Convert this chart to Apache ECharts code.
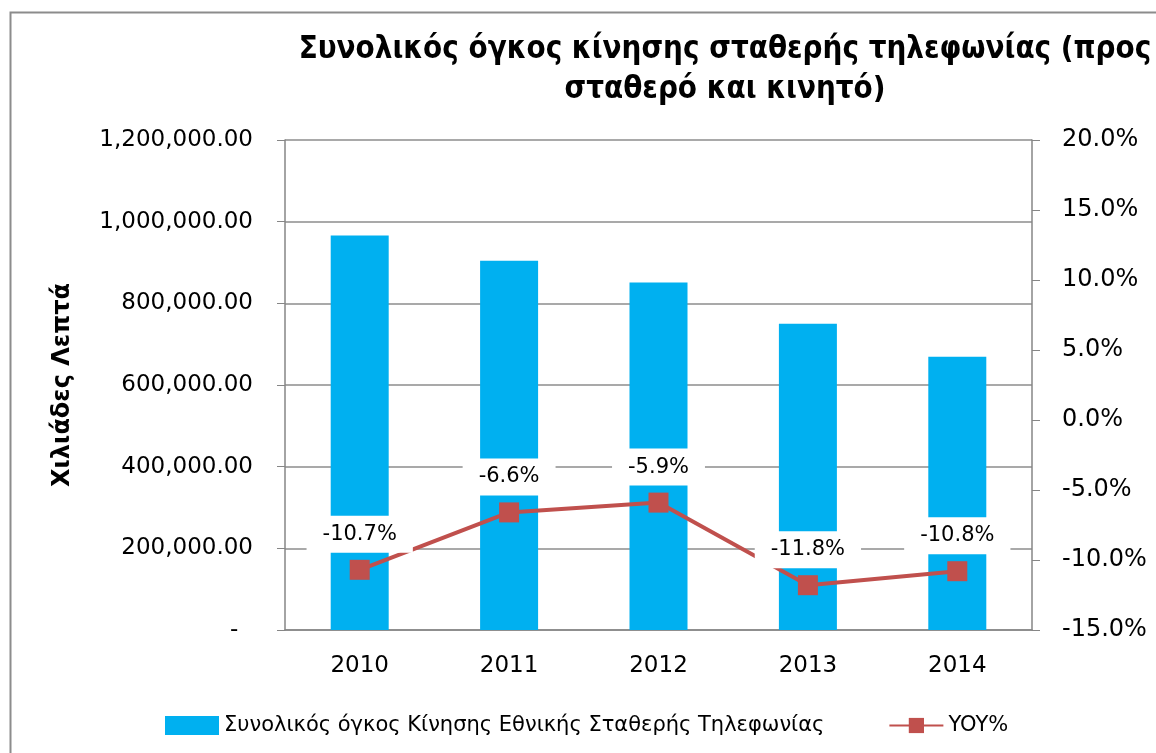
<!DOCTYPE html>
<html>
<head>
<meta charset="utf-8">
<script src="https://cdn.jsdelivr.net/npm/echarts@6/dist/echarts.min.js"></script>
<style>
  html, body { margin: 0; padding: 0; background: #fff; }
  #chart { width: 1156px; height: 753px; }
</style>
</head>
<body>
<div id="chart"></div>
<script>
// data
const years = ['2010', '2011', '2012', '2013', '2014']
const traffic = [966000, 904000, 851000, 750000, 669000] // χιλιάδες λεπτά
const yoy = [-10.7, -6.6, -5.9, -11.8, -10.8] // %

const barName = 'Συνολικός όγκος Κίνησης Εθνικής Σταθερής Τηλεφωνίας'
const lineName = 'YOY%'
const font = 'DejaVu Sans'

const chart = echarts.init(document.getElementById('chart'))
chart.setOption({
  animation: false,
  backgroundColor: '#fff',
  graphic: [
    {
      type: 'rect',
      left: 8,
      top: 10,
      shape: { width: 1300, height: 900 },
      style: { fill: 'none', stroke: '#8c8c8c', lineWidth: 2 },
      silent: true
    },
    {
      // title is centred off to the right and runs past the edge, as in the original
      type: 'text',
      x: 725,
      y: 30,
      style: {
        text: 'Συνολικός όγκος κίνησης σταθερής τηλεφωνίας (προς\nσταθερό και κινητό)',
        textAlign: 'center',
        fontFamily: '"DejaVu Sans Condensed", "DejaVu Sans"',
        fontSize: 31,
        fontWeight: 'bold',
        lineHeight: 40,
        fill: '#000'
      }
    }
  ],
  grid: { left: 285, right: 124, top: 140, bottom: 123 },
  legend: {
    left: 160,
    top: 710,
    itemWidth: 54,
    itemHeight: 19,
    itemGap: 64,
    textStyle: { fontFamily: font, fontSize: 21, color: '#000' },
    data: [{ name: barName, icon: 'rect' }, { name: lineName }]
  },
  xAxis: {
    type: 'category',
    data: years,
    axisLine: { lineStyle: { color: '#868686', width: 1.5 } },
    axisTick: { show: false },
    axisLabel: { fontFamily: font, fontSize: 23, color: '#000', margin: 25 }
  },
  yAxis: [
    {
      type: 'value',
      min: 0,
      max: 1200000,
      interval: 200000,
      name: 'Χιλιάδες Λεπτά',
      nameLocation: 'middle',
      nameRotate: 90,
      nameGap: 210,
      nameTextStyle: { fontFamily: font, fontSize: 24, fontWeight: 'bold', color: '#000' },
      axisLine: { show: true, lineStyle: { color: '#868686', width: 1.5 } },
      axisTick: { show: true, length: 8, lineStyle: { color: '#868686' } },
      splitLine: { lineStyle: { color: '#8c8c8c', width: 1.5 } },
      axisLabel: {
        fontFamily: font,
        fontSize: 23,
        color: '#000',
        margin: 32,
        formatter: v => v === 0 ? '-  ' : v.toLocaleString('en-US', { minimumFractionDigits: 2, maximumFractionDigits: 2 })
      }
    },
    {
      type: 'value',
      min: -15,
      max: 20,
      interval: 5,
      position: 'right',
      axisLine: { show: true, lineStyle: { color: '#868686', width: 1.5 } },
      axisTick: { show: true, length: 8, lineStyle: { color: '#868686' } },
      splitLine: { show: false },
      axisLabel: {
        fontFamily: font,
        fontSize: 24,
        color: '#000',
        margin: 30,
        formatter: v => v.toFixed(1) + '%'
      }
    }
  ],
  series: [
    {
      name: barName,
      type: 'bar',
      data: traffic,
      barWidth: 58,
      itemStyle: { color: '#00B0F0' }
    },
    {
      name: lineName,
      type: 'line',
      yAxisIndex: 1,
      data: yoy,
      symbol: 'rect',
      symbolSize: 20,
      lineStyle: { color: '#C0504D', width: 4 },
      itemStyle: { color: '#C0504D' },
      label: {
        show: true,
        position: 'top',
        distance: 7,
        formatter: p => p.value.toFixed(1) + '%',
        fontFamily: font,
        fontSize: 21,
        color: '#000',
        backgroundColor: '#fff',
        padding: [8, 16]
      }
    }
  ]
})
</script>
</body>
</html>
